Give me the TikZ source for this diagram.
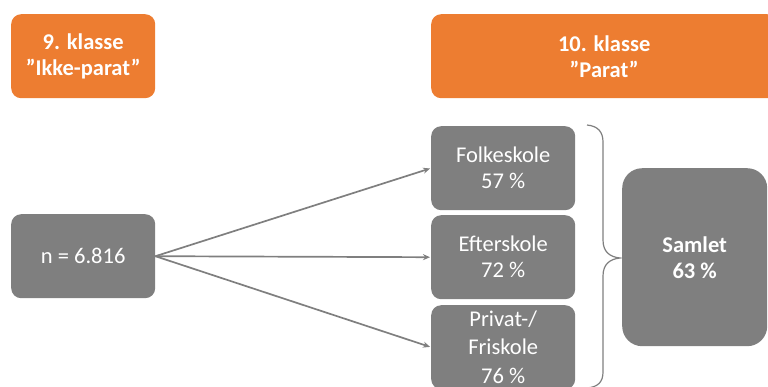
\documentclass[tikz,border=0pt]{standalone}
\usepackage{fontspec}
\setmainfont{Carlito}
\usetikzlibrary{arrows.meta}
\definecolor{orng}{HTML}{ED7D31}
\definecolor{gry}{HTML}{7F7F7F}
\begin{document}
\begin{tikzpicture}[x=1pt,y=-1pt,
  box/.style={rounded corners=10pt, minimum width=144pt, minimum height=84pt, inner sep=0pt, text=white, align=center, font=\fontsize{22.5}{26}\selectfont, anchor=north west},
  orangebox/.style={box, fill=orng, font=\fontsize{22.5}{26}\selectfont\bfseries},
  graybox/.style={box, fill=gry},
  conn/.style={draw=gry, line width=1.7pt, shorten >=1pt, -{Stealth[length=7pt,width=6pt]}}
]
\useasboundingbox (0,0) rectangle (768,386);
\node[orangebox] (k9) at (11,14) {9. klasse\\”Ikke-parat”};
\node[orangebox, minimum width=346pt] (k10) at (431,14) {10. klasse\\”Parat”};
\node[graybox] (n) at (11,214) {n = 6.816};
\node[graybox] (folk) at (431,126) {Folkeskole\\57 \%};
\node[graybox] (efter) at (431,215) {Efterskole\\72 \%};
\node[graybox, font=\fontsize{22.5}{28.5}\selectfont] (priv) at (431,305) {Privat-/\\Friskole\\76 \%};
\node[graybox, rounded corners=20pt, minimum width=145pt, minimum height=178pt, font=\fontsize{22.5}{26}\selectfont\bfseries] (samlet) at (622,168) {Samlet\\63 \%};
\draw[conn] (n.east) -- (folk.west);
\draw[conn] (n.east) -- (efter.west);
\draw[conn] (n.east) -- (priv.west);
\draw[gry, line width=1.2pt] (587,125) .. controls (598,126) and (603,132) .. (603,142) -- (603,240) .. controls (603,252) and (610,257) .. (620,258) .. controls (610,259) and (603,264) .. (603,276) -- (603,372) .. controls (603,382) and (598,387) .. (587,388);
\end{tikzpicture}
\end{document}
